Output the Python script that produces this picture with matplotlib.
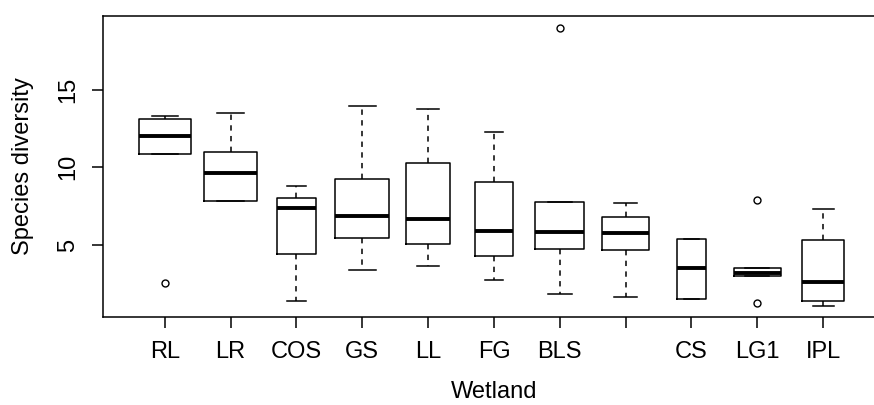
import matplotlib
matplotlib.use("Agg")
import matplotlib.pyplot as plt

plt.rcParams["font.family"] = ["Liberation Sans", "DejaVu Sans"]

# Wetland sites and summary statistics of species diversity
categories = ["RL", "LR", "COS", "GS", "LL", "FG", "BLS", "", "CS", "LG1", "IPL"]
whisker_low = [10.88, 7.81, 1.42, 3.41, 3.67, 2.77, 1.85, 1.67, 1.50, 3.03, 1.09]
q1 = [10.88, 7.81, 4.40, 5.47, 5.06, 4.31, 4.74, 4.66, 1.50, 3.03, 1.42]
median = [12.04, 9.64, 7.38, 6.89, 6.65, 5.90, 5.82, 5.75, 3.52, 3.18, 2.60]
q3 = [13.11, 11.01, 8.05, 9.27, 10.28, 9.03, 7.79, 6.80, 5.41, 3.50, 5.34]
whisker_high = [13.33, 13.50, 8.80, 13.91, 13.78, 12.28, 7.79, 7.73, 5.41, 3.50, 7.30]
outliers = [[2.55], [], [], [], [], [], [18.95], [], [], [7.92, 1.27], []]

# box widths scale with group size (variable-width boxes)
box_widths = [0.80, 0.81, 0.59, 0.82, 0.67, 0.57, 0.74, 0.72, 0.45, 0.72, 0.64]

stats = []
for i in range(len(categories)):
    stats.append(dict(med=median[i], q1=q1[i], q3=q3[i],
                      whislo=whisker_low[i], whishi=whisker_high[i],
                      fliers=outliers[i], label=categories[i]))

fig = plt.figure(figsize=(8.74, 4.05), dpi=100)
ax = fig.add_axes([0.1178, 0.2173, 0.8947, 0.7432])

positions = list(range(1, len(categories) + 1))
lw = 1.1
ax.bxp(stats, positions=positions, widths=box_widths,
       capwidths=[w / 2 for w in box_widths],
       boxprops=dict(color="black", linewidth=lw),
       medianprops=dict(color="black", linewidth=2.8, solid_capstyle="butt"),
       whiskerprops=dict(color="black", linewidth=lw, linestyle=(0, (3.5, 3.5))),
       capprops=dict(color="black", linewidth=lw),
       flierprops=dict(marker="o", markersize=5, markerfacecolor="none",
                       markeredgecolor="black", markeredgewidth=1.0,
                       linestyle="none"))

ax.set_xlim(0.06, 11.94)
ax.set_ylim(0.37, 19.73)
ax.set_xticks(positions)
ax.set_xticklabels(categories)
ax.set_yticks([5, 10, 15])
ax.set_yticklabels(["5", "10", "15"], rotation=90, va="center")

for s in ax.spines.values():
    s.set_linewidth(lw)
    s.set_color("black")

ax.tick_params(axis="both", length=8, width=lw, color="black",
               labelsize=17, labelcolor="black")
ax.tick_params(axis="x", pad=9)
ax.tick_params(axis="y", pad=9)

ax.set_xlabel("Wetland", fontsize=17)
ax.set_ylabel("Species diversity", fontsize=17)
ax.xaxis.set_label_coords(0.5, -0.248)
ax.xaxis.label.set_va("center")
ax.yaxis.set_label_coords(-0.1023, 0.5)
ax.yaxis.label.set_va("center")

fig.savefig("out.png", dpi=100)
